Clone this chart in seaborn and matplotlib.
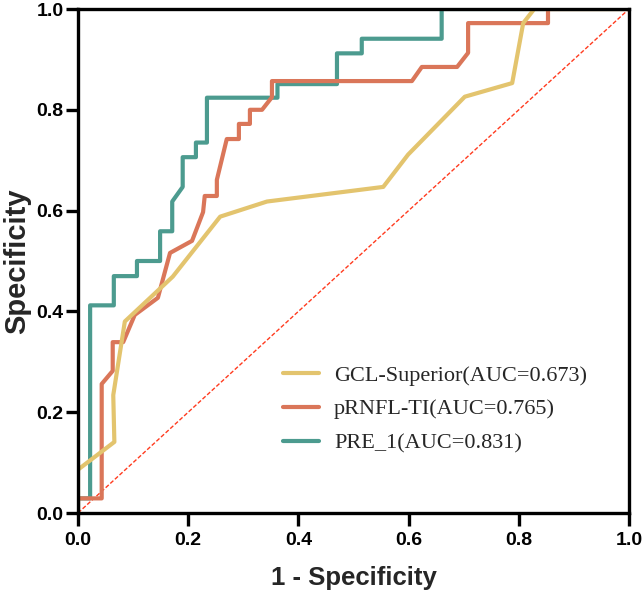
import matplotlib
matplotlib.use("Agg")
import matplotlib.pyplot as plt
import seaborn as sns
import pandas as pd
import numpy as np

# ---- data ----
pre_x = [0, 0, 0.022, 0.022, 0.065, 0.065, 0.107, 0.107, 0.149, 0.149, 0.171, 0.171,
         0.19, 0.19, 0.214, 0.214, 0.234, 0.234, 0.362, 0.362, 0.47, 0.47, 0.515, 0.515,
         0.66, 0.66, 1.0]
pre_y = [0, 0.029, 0.029, 0.412, 0.412, 0.47, 0.47, 0.5, 0.5, 0.559, 0.559, 0.618,
         0.647, 0.706, 0.706, 0.735, 0.735, 0.824, 0.824, 0.851, 0.851, 0.912, 0.912, 0.941,
         0.941, 1.0, 1.0]

prnfl_x = [0, 0, 0.043, 0.043, 0.063, 0.063, 0.082, 0.103, 0.145, 0.167, 0.207, 0.227,
           0.23, 0.252, 0.252, 0.27, 0.292, 0.292, 0.312, 0.312, 0.334, 0.352, 0.352,
           0.606, 0.624, 0.688, 0.708, 0.708, 0.853, 0.853, 1.0]
prnfl_y = [0, 0.029, 0.029, 0.256, 0.282, 0.339, 0.339, 0.393, 0.427, 0.516, 0.54, 0.597,
           0.629, 0.629, 0.661, 0.742, 0.742, 0.772, 0.772, 0.80, 0.80, 0.825, 0.857,
           0.857, 0.885, 0.885, 0.913, 0.972, 0.972, 1.0, 1.0]

gcl_x = [0, 0, 0.066, 0.064, 0.085, 0.172, 0.258, 0.343, 0.554, 0.599, 0.702, 0.788,
         0.808, 0.828, 1.0]
gcl_y = [0, 0.086, 0.141, 0.234, 0.38, 0.469, 0.588, 0.618, 0.647, 0.711, 0.826, 0.853,
         0.972, 1.0, 1.0]

diag_x = [0, 1]
diag_y = [0, 1]

labels = ["GCL-Superior(AUC=0.673)", "pRNFL-TI(AUC=0.765)", "PRE_1(AUC=0.831)"]
colors = ["#E3C46E", "#DA7659", "#4C9B8F"]
ticks = [0.0, 0.2, 0.4, 0.6, 0.8, 1.0]
tick_labels = ["0.0", "0.2", "0.4", "0.6", "0.8", "1.0"]

frames = []
for name, xs, ys in [(labels[2], pre_x, pre_y), (labels[1], prnfl_x, prnfl_y),
                     (labels[0], gcl_x, gcl_y)]:
    frames.append(pd.DataFrame({"x": xs, "y": ys, "model": name,
                                "order": np.arange(len(xs))}))
df = pd.concat(frames, ignore_index=True)

sns.set_style("white")
plt.rcParams["font.family"] = ["Liberation Sans", "DejaVu Sans"]

fig = plt.figure(figsize=(6.44, 5.94), dpi=100)
ax = fig.add_axes([78 / 644, 1 - 513 / 594, 551 / 644, 504 / 594])

sns.lineplot(x=diag_x, y=diag_y, ax=ax, color="#FF3B1F", linewidth=1.0,
             linestyle=(0, (3, 1.5)), legend=False)

sns.lineplot(data=df, x="x", y="y", hue="model", units="model", estimator=None,
             sort=False, ax=ax, linewidth=3.0,
             hue_order=[labels[2], labels[1], labels[0]],
             palette={labels[0]: colors[0], labels[1]: colors[1], labels[2]: colors[2]})

ax.set_xlim(0, 1)
ax.set_ylim(0, 1)
ax.set_xticks(ticks)
ax.set_yticks(ticks)
ax.set_xticklabels(tick_labels, fontsize=14, fontweight="bold")
ax.set_yticklabels(tick_labels, fontsize=14, fontweight="bold")
ax.tick_params(axis="both", direction="out", length=9, width=2.4,
               bottom=True, left=True, top=False, right=False, colors="black")
ax.tick_params(axis="x", pad=5)
ax.tick_params(axis="y", pad=1.5)
for s in ax.spines.values():
    s.set_visible(True)
    s.set_color("black")
    s.set_linewidth(2.4)

ax.set_xlabel("1 - Specificity", fontsize=18.5, fontweight="bold", labelpad=12)
ax.set_ylabel("Specificity", fontsize=21, fontweight="bold", labelpad=4)

handles, lbls = ax.get_legend_handles_labels()
hmap = dict(zip(lbls, handles))
leg = ax.legend([hmap[l] for l in labels], labels, loc="center left",
                bbox_to_anchor=(0.372, 0.206), frameon=False, borderpad=0,
                borderaxespad=0, handlelength=1.6, handletextpad=0.7,
                labelspacing=0.6,
                prop={"family": ["Liberation Serif"], "size": 16})

fig.savefig("out.png", dpi=100)
